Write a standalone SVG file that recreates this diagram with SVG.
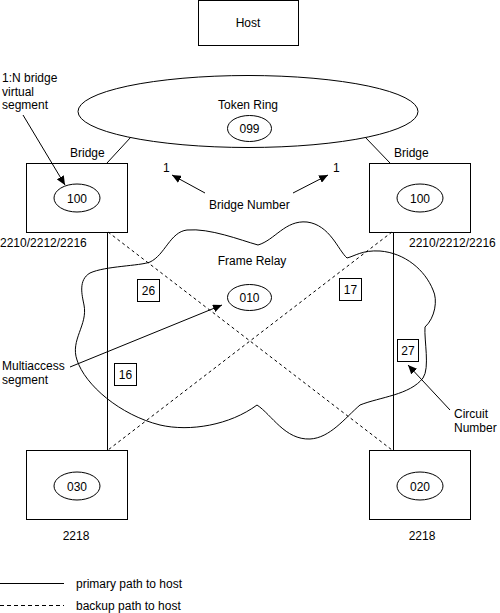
<svg xmlns="http://www.w3.org/2000/svg" width="500" height="613" viewBox="0 0 500 613">
<style>
text{font-family:"Liberation Sans",Arial,sans-serif;font-size:12px;fill:#000}
.c{text-anchor:middle}
.s{fill:none;stroke:#000;stroke-width:1}
.d{fill:none;stroke:#000;stroke-width:1;stroke-dasharray:3,3}
.a{fill:none;stroke:#000;stroke-width:1;marker-end:url(#ah)}
</style>
<defs>
<marker id="ah" markerUnits="userSpaceOnUse" markerWidth="10" markerHeight="8" refX="9" refY="4" orient="auto">
<path d="M0,0 L9,4 L0,8 Z" fill="#000"/>
</marker>
</defs>
<rect width="500" height="613" fill="#fff"/>

<g id="connectors">
<line class="s" x1="131" y1="137" x2="107" y2="163"/>
<line class="s" x1="365" y1="137" x2="390" y2="163"/>
<line class="s" x1="107.5" y1="232" x2="107.5" y2="450"/>
<line class="s" x1="393.5" y1="232" x2="393.5" y2="450"/>
<line class="d" x1="108" y1="232" x2="392" y2="450"/>
<line class="d" x1="392" y1="232" x2="108" y2="450"/>
</g>

<g id="frame-relay">
<path class="s" d="M258,245 C240,240 210,228 187,230 C170,232 165,255 150,262 C140,266 105,266 90,273 C78,280 82,295 84,305 C88,325 70,340 77,360 C85,385 120,415 160,425 C190,432 230,425 257,405 C272,415 285,440 310,439 C330,438 345,418 360,405 C380,397 410,395 423,378 C430,368 424,340 425,327 C435,318 438,300 433,290 C425,270 405,253 380,251 C362,250 355,256 347,258 C338,250 330,225 307,222 C285,220 275,240 258,245 Z"/>
<text class="c" x="252" y="265">Frame Relay</text>
<ellipse class="s" cx="249.5" cy="297.5" rx="22" ry="13"/>
<text class="c" x="249.5" y="302">010</text>
</g>

<g id="host">
<rect class="s" x="198.5" y="0.5" width="100" height="45"/>
<text class="c" x="248" y="27">Host</text>
</g>

<g id="token-ring">
<ellipse class="s" cx="248" cy="111.5" rx="170" ry="36"/>
<text class="c" x="248" y="109">Token Ring</text>
<ellipse class="s" cx="249.5" cy="128.5" rx="22" ry="13"/>
<text class="c" x="249.5" y="133">099</text>
</g>

<g id="bridge-left">
<rect class="s" x="26.5" y="163.5" width="101" height="69"/>
<ellipse class="s" cx="77" cy="198" rx="23" ry="14"/>
<text class="c" x="77" y="202.5">100</text>
<text x="70" y="157">Bridge</text>
<text x="0" y="247">2210/2212/2216</text>
</g>

<g id="bridge-right">
<rect class="s" x="369.5" y="163.5" width="101" height="69"/>
<ellipse class="s" cx="420" cy="198" rx="23" ry="14"/>
<text class="c" x="420" y="202.5">100</text>
<text x="394" y="157">Bridge</text>
<text x="409" y="247">2210/2212/2216</text>
</g>

<g id="node-030">
<rect class="s" x="26.5" y="450.5" width="101" height="69"/>
<ellipse class="s" cx="77" cy="486" rx="23" ry="14"/>
<text class="c" x="77" y="490.5">030</text>
<text class="c" x="76" y="540">2218</text>
</g>

<g id="node-020">
<rect class="s" x="369.5" y="450.5" width="101" height="69"/>
<ellipse class="s" cx="420" cy="486" rx="23" ry="14"/>
<text class="c" x="420" y="490.5">020</text>
<text class="c" x="422" y="540">2218</text>
</g>

<g id="circuits">
<rect class="s" x="137.5" y="279.5" width="22" height="22"/>
<text class="c" x="148.5" y="295">26</text>
<rect class="s" x="114.5" y="363.5" width="22" height="22"/>
<text class="c" x="125.5" y="379">16</text>
<rect class="s" x="339.5" y="278.5" width="22" height="22"/>
<text class="c" x="350.5" y="294">17</text>
<rect class="s" x="397.5" y="339.5" width="21" height="22"/>
<text class="c" x="408" y="355">27</text>
</g>

<g id="annotations">
<text x="2" y="82">1:N bridge</text>
<text x="2" y="96">virtual</text>
<text x="2" y="109">segment</text>
<line class="a" x1="23" y1="115" x2="65" y2="185"/>
<text x="163" y="172">1</text>
<text x="333" y="172">1</text>
<text x="209" y="209">Bridge Number</text>
<line class="a" x1="205" y1="193" x2="172" y2="175"/>
<line class="a" x1="293" y1="193" x2="328" y2="175"/>
<text x="2" y="370">Multiaccess</text>
<text x="2" y="384">segment</text>
<line class="a" x1="70" y1="367" x2="222" y2="305"/>
<text x="454" y="418">Circuit</text>
<text x="454" y="432">Number</text>
<line class="a" x1="450" y1="410" x2="408" y2="365"/>
</g>

<g id="legend">
<line class="s" x1="0" y1="583.5" x2="64" y2="583.5"/>
<text x="76" y="588">primary path to host</text>
<line class="s" x1="0" y1="605.5" x2="64" y2="605.5" stroke-dasharray="4,3"/>
<text x="76" y="610">backup path to host</text>
</g>
</svg>
